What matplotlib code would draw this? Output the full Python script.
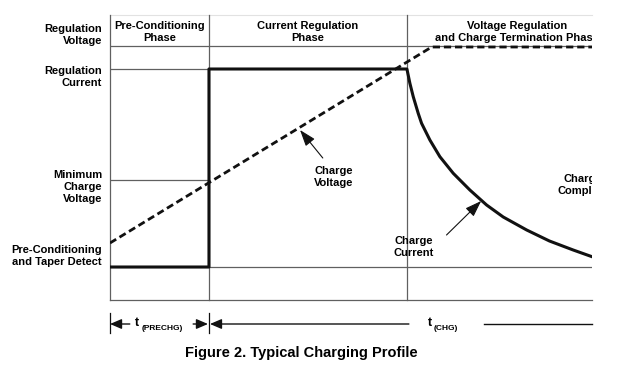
import matplotlib.pyplot as plt

# levels on the left (y in arbitrary units, 0 = bottom line)
level_names = ["Pre-Conditioning\nand Taper Detect", "Minimum\nCharge\nVoltage",
               "Regulation\nCurrent", "Regulation\nVoltage"]
level_values = [0.33, 1.20, 2.31, 2.54]
label_y = [0.44, 1.13, 2.23, 2.65]

# phase boundaries (time units)
phase_edges = [0.0, 1.0, 3.0, 4.87]
phase_names = ["Pre-Conditioning\nPhase", "Current Regulation\nPhase",
               "Voltage Regulation\nand Charge Termination Phase"]
phase_centers = [0.5, 2.0, 4.11]
y_top = 2.85

# charge current (solid)
cur_t = [0.0, 1.0, 1.0, 3.0, 3.03, 3.064, 3.114, 3.148, 3.232, 3.333, 3.468, 3.636,
         3.805, 3.973, 4.21, 4.44, 4.68, 4.87]
cur_v = [0.33, 0.33, 2.31, 2.31, 2.167, 2.033, 1.867, 1.767, 1.60, 1.433, 1.267, 1.10,
         0.95, 0.83, 0.70, 0.59, 0.50, 0.433]

# charge voltage (dashed)
volt_t = [0.0, 3.25, 4.87]
volt_v = [0.57, 2.53, 2.53]

plt.rcParams['font.family'] = ['Liberation Sans', 'DejaVu Sans']
plt.rcParams['font.weight'] = 'bold'

fig = plt.figure(figsize=(6.2, 3.72), dpi=100)
ax = fig.add_axes([110 / 620, 1 - 300 / 372, 482 / 620, 285 / 372])
ax.set_xlim(0, 4.87)
ax.set_ylim(0, y_top)
for s in ax.spines.values():
    s.set_visible(False)
ax.set_xticks([])
ax.set_yticks([])

grey = '#606060'
# frame / grid
ax.plot([0, 4.87], [y_top, y_top], color='#e2e2e2', lw=0.8, clip_on=False)
for x in phase_edges[:3]:
    ax.plot([x, x], [0, y_top], color=grey, lw=0.9, clip_on=False)
ax.plot([0, 4.87], [0, 0], color=grey, lw=0.9, clip_on=False)
ax.plot([0, 4.87], [level_values[0], level_values[0]], color=grey, lw=0.9)
ax.plot([0, 1], [level_values[1], level_values[1]], color=grey, lw=0.9)
ax.plot([0, 1], [level_values[2], level_values[2]], color=grey, lw=0.9)
ax.plot([0, 4.87], [level_values[3], level_values[3]], color=grey, lw=0.9)

ax.plot(volt_t, volt_v, color='#111111', lw=2.0, ls=(0, (2.6, 1.4)), solid_capstyle='butt')
ax.plot(cur_t, cur_v, color='#111111', lw=2.2, solid_joinstyle='round')

fs = 8
ls = 1.3
for name, y in zip(level_names, label_y):
    ax.text(-0.08, y, name, ha='right', va='center', fontsize=fs, fontweight='bold',
            linespacing=ls, clip_on=False)

for name, xc in zip(phase_names, phase_centers):
    ax.text(xc, 2.68, name, ha='center', va='center', fontsize=fs, fontweight='bold',
            linespacing=ls, clip_on=True)

ax.text(4.78, 1.15, "Charge\nComplete", ha='center', va='center', fontsize=fs,
        fontweight='bold', linespacing=ls, clip_on=True)

arrow = dict(arrowstyle='-|>,head_length=1.0,head_width=0.35', color='#111111', lw=0.8,
             shrinkA=0, shrinkB=0)
ax.text(2.26, 1.23, "Charge\nVoltage", ha='center', va='center', fontsize=fs,
        fontweight='bold', linespacing=ls)
ax.annotate("", xy=(1.92, 1.70), xytext=(2.15, 1.42), arrowprops=arrow)
ax.text(3.07, 0.53, "Charge\nCurrent", ha='center', va='center', fontsize=fs,
        fontweight='bold', linespacing=ls)
ax.annotate("", xy=(3.75, 0.99), xytext=(3.40, 0.65), arrowprops=arrow)

# timing dimensions below
dim_y = -0.24
for x in [0.0, 1.0]:
    ax.plot([x, x], [-0.13, -0.33], color='#111111', lw=0.9, clip_on=False)
dim_arrow = dict(arrowstyle='-|>,head_length=0.7,head_width=0.3', color='#111111', lw=1.0,
                 shrinkA=0, shrinkB=0)
ax.annotate("", xy=(0.0, dim_y), xytext=(0.20, dim_y), arrowprops=dim_arrow, annotation_clip=False)
ax.annotate("", xy=(0.99, dim_y), xytext=(0.84, dim_y), arrowprops=dim_arrow, annotation_clip=False)
ax.annotate("", xy=(1.01, dim_y), xytext=(3.02, dim_y), arrowprops=dim_arrow, annotation_clip=False)
ax.plot([3.78, 4.87], [dim_y, dim_y], color='#111111', lw=1.0, clip_on=False)

ax.text(0.25, dim_y + 0.01, "t", ha='left', va='center', fontsize=9, fontweight='bold', clip_on=False)
ax.text(0.32, dim_y - 0.04, "(PRECHG)", ha='left', va='center', fontsize=6, fontweight='bold',
        clip_on=False)
ax.text(3.21, dim_y + 0.01, "t", ha='left', va='center', fontsize=9, fontweight='bold', clip_on=False)
ax.text(3.27, dim_y - 0.04, "(CHG)", ha='left', va='center', fontsize=6, fontweight='bold',
        clip_on=False)

fig.text(301 / 620, 1 - 353 / 372, "Figure 2. Typical Charging Profile", ha='center', va='center',
         fontsize=10.5, fontweight='bold', family=['Liberation Sans Narrow', 'Liberation Sans'])

fig.savefig('out.png', dpi=100)
